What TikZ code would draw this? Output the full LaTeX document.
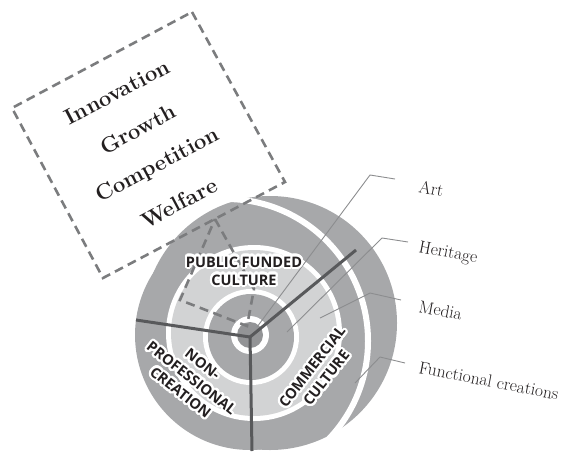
\documentclass[tikz,border=0pt]{standalone}
\usepackage{fontspec}
\setmainfont{Latin Modern Roman}
\newfontfamily\sectorfont{Open Sans}
\usepackage{contour}
\contournumber{24}
\contourlength{2.2pt}
\definecolor{ringdark}{HTML}{A7A8AA}
\definecolor{ringlight}{HTML}{D2D3D4}
\definecolor{coredark}{HTML}{939496}
\definecolor{spokegray}{HTML}{58595B}
\definecolor{dashgray}{HTML}{7B7C7E}
\definecolor{leadgray}{HTML}{8C8D8F}
\definecolor{textdark}{HTML}{231F20}
\begin{document}
\begin{tikzpicture}[x=1pt,y=-1pt,
	ring/.style={ fill=#1, draw=none },
	spoke/.style={ draw=spokegray, line width=3pt },
	leader/.style={ draw=leadgray, line width=0.9pt },
	boxline/.style={ draw=dashgray, line width=2.6pt, dash pattern=on 9pt off 5.5pt },
	sector/.style={ font=\sectorfont\bfseries\fontsize{14.5}{18}\selectfont, text=textdark, align=center, inner sep=0pt },
	item/.style={ font=\fontsize{17.5}{20}\selectfont, text=textdark, anchor=base west, inner sep=0pt },
	boxtext/.style={ font=\bfseries\fontsize{22}{24}\selectfont, text=textdark, inner sep=0pt }
]
\useasboundingbox (0,0) rectangle (564,455);

% outer disc with crescent
\fill[ring=ringdark] (270,323) circle[radius=127];
\fill[ring=ringdark] (250,335) circle[radius=115];
\draw[white, line width=6pt] (226,341) circle[radius=142];

% rings
\fill[white] (254,333) circle[radius=88];
\fill[ring=ringlight] (254,333) circle[radius=83];
\fill[white] (251,337) circle[radius=48];
\fill[ring=ringdark] (251,337) circle[radius=43];
\fill[white] (250,335) circle[radius=19];
\fill[ring=coredark] (250,335) circle[radius=13];

% spokes
\coordinate (o) at (250,337);
\coordinate (s1) at (356,250);
\coordinate (s2) at (136,320);
\coordinate (s3) at (252,451);
\foreach \s in {s1,s2,s3} \draw[spoke] (o) -- (\s);

% dashed box and its projection
\coordinate (bt) at (192,12);
\coordinate (bl) at (12,108);
\coordinate (bb) at (103,278);
\coordinate (br) at (285,182);
\draw[boxline] (bt) -- (br) -- (bb) -- (bl) -- cycle;
\coordinate (k1) at (215,219);
\coordinate (k2) at (254,289);
\coordinate (k3) at (247,326);
\coordinate (k4) at (180,300);
\draw[boxline] (k1) -- (k2) -- (k3) -- (k4) -- cycle;

\node[boxtext, rotate=28] at (117,92) (inno) {Innovation};
\node[boxtext, rotate=28] at (138,129) (grow) {Growth};
\node[boxtext, rotate=28] at (158,166) (comp) {Competition};
\node[boxtext, rotate=28] at (179,203) (welf) {Welfare};

% labels and leaders
\node[item, rotate=-11] at (418,192) (art) {Art};
\node[item, rotate=-11] at (418,252) (her) {Heritage};
\node[item, rotate=-11] at (418,312) (med) {Media};
\node[item, rotate=-11] at (418,373) (fun) {Functional creations};

\coordinate (a0) at (395,179); \coordinate (a1) at (370,175); \coordinate (a2) at (257,327);
\coordinate (h0) at (408,242); \coordinate (h1) at (382,238); \coordinate (h2) at (287,332);
\coordinate (m0) at (401,300); \coordinate (m1) at (370,293); \coordinate (m2) at (320,318);
\coordinate (f0) at (405,363); \coordinate (f1) at (380,357); \coordinate (f2) at (355,383);
\foreach \p in {a,h,m,f} \draw[leader] (\p0) -- (\p1) -- (\p2);

\node[sector] at (244,272) (pub) {\contour{white}{PUBLIC FUNDED}\\\contour{white}{CULTURE}};
\node[sector, rotate=-38] at (191,379) (non) {\contour{white}{NON-}\\\contour{white}{PROFESSIONAL}\\\contour{white}{CREATION}};
\node[sector, rotate=52] at (320,373) (com) {\contour{white}{COMMERCIAL}\\\contour{white}{CULTURE}};

\end{tikzpicture}
\end{document}
